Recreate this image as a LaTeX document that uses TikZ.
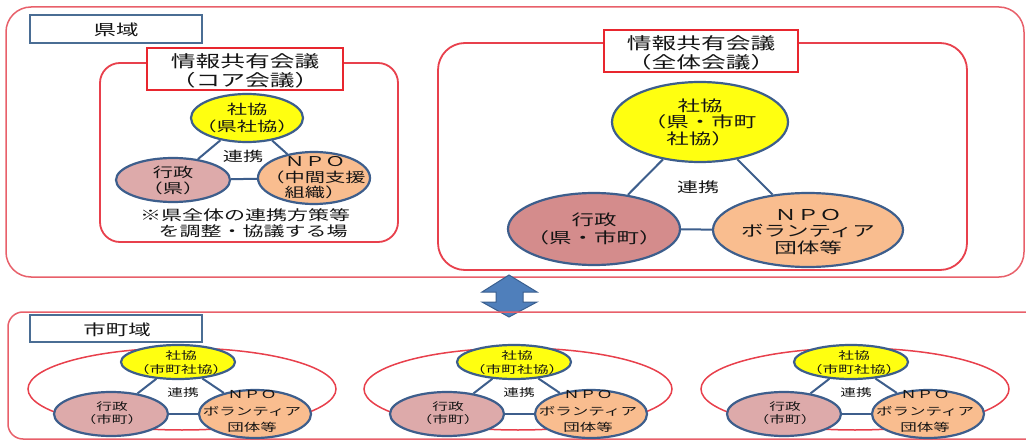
\documentclass[tikz,border=0pt]{standalone}
\usepackage{fontspec}
\newfontfamily\jp[FakeStretch=1.5]{Noto Sans CJK JP}
\usetikzlibrary{shapes.geometric}
\definecolor{outerred}{HTML}{E8606A}
\definecolor{innerred}{HTML}{E8404C}
\definecolor{titlered}{HTML}{E8262E}
\definecolor{ellblue}{HTML}{3D5E8C}
\definecolor{boxblue}{HTML}{4A6D94}
\definecolor{skyellow}{HTML}{FFFF10}
\definecolor{gyopink}{HTML}{DDAAAA}
\definecolor{gyorose}{HTML}{D48C8C}
\definecolor{npoorange}{HTML}{F9BD8F}
\definecolor{arrowfill}{HTML}{4F7FBB}
\definecolor{arrowline}{HTML}{3A5F8F}
\tikzset{
  ell/.style={ellipse, draw=ellblue, line width=2.2pt, inner sep=0pt},
  conn/.style={draw=ellblue, line width=2pt},
  txt/.style={font=\jp, align=center, inner sep=0pt, text=black!92},
  titlebox/.style={draw=titlered, line width=2.5pt, fill=white, inner sep=0pt},
  areabox/.style={draw=boxblue, line width=2.5pt, fill=white, inner sep=0pt},
  outerframe/.style={draw=outerred, line width=1.5pt},
  innerframe/.style={draw=innerred, line width=1.8pt},
}
\begin{document}
\begin{tikzpicture}[x=1pt,y=-1pt]
\useasboundingbox[fill=white] (0,0) rectangle (1026,441);
% ---------- prefecture area ----------
\draw[outerframe, rounded corners=25pt] (6,7) rectangle (1024,277);
\node[areabox, minimum width=172pt, minimum height=28pt] (kenbox) at (116,29) {};
\node[txt, font=\jp\fontsize{15}{17}\selectfont] (kenlbl) at (116,30) {県域};
% core meeting
\draw[innerframe, rounded corners=20pt] (100,63) rectangle (398,242);
\node[titlebox, minimum width=196pt, minimum height=42pt] (coretitle) at (245,69) {};
\node[txt, font=\jp\fontsize{16.5}{18.5}\selectfont] (coretitletxt) at (245,71) {情報共有会議\\（コア会議）};
\node[ell, fill=skyellow, minimum width=112pt, minimum height=48pt] (cSK) at (247,118) {};
\node[ell, fill=gyopink, minimum width=114pt, minimum height=44pt] (cGY) at (173,180) {};
\node[ell, fill=npoorange, minimum width=112pt, minimum height=52pt] (cNP) at (314,178) {};
\draw[conn] (cSK) -- (cGY);
\draw[conn] (cSK) -- (cNP);
\draw[conn] (cGY) -- (cNP);
\node[txt, font=\jp\fontsize{13.5}{17.5}\selectfont] (cSKt) at (247,118) {社協\\（県社協）};
\node[txt, font=\jp\fontsize{13.5}{16}\selectfont] (cGYt) at (173,180) {行政\\（県）};
\node[txt, font=\jp\fontsize{13.5}{15.5}\selectfont] (cNPt) at (315,178) {ＮＰＯ\\（中間支援\\組織）};
\node[txt, font=\jp\fontsize{13.5}{16}\selectfont] (cRK) at (243,156) {連携};
\node[txt, font=\jp\fontsize{14}{16}\selectfont] (note1) at (245,215) {※県全体の連携方策等};
\node[txt, font=\jp\fontsize{14}{16}\selectfont] (note2) at (253,231) {を調整・協議する場};
% full meeting
\draw[innerframe, rounded corners=27pt] (438,43) rectangle (967,270);
\node[titlebox, minimum width=194pt, minimum height=42pt] (fulltitle) at (701,51) {};
\node[txt, font=\jp\fontsize{16.5}{18.5}\selectfont] (fulltitletxt) at (701,53) {情報共有会議\\（全体会議）};
\node[ell, fill=skyellow, minimum width=176pt, minimum height=80pt] (fSK) at (700,122) {};
\node[ell, fill=gyorose, minimum width=172pt, minimum height=72pt] (fGY) at (594,229) {};
\node[ell, fill=npoorange, minimum width=190pt, minimum height=74pt] (fNP) at (808,230) {};
\draw[conn] (fSK) -- (fGY);
\draw[conn] (fSK) -- (fNP);
\draw[conn] (fGY) -- (fNP);
\node[txt, font=\jp\fontsize{15}{16.5}\selectfont] (fSKt) at (700,122) {社協\\（県・市町\\社協）};
\node[txt, font=\jp\fontsize{15}{18}\selectfont] (fGYt) at (594,229) {行政\\（県・市町）};
\node[txt, font=\jp\fontsize{15}{16.5}\selectfont] (fNPt) at (808,231.5) {ＮＰＯ\\ボランティア\\団体等};
\node[txt, font=\jp\fontsize{14}{16}\selectfont] (fRK) at (698,187) {連携};
% ---------- arrow ----------
\fill[arrowfill, draw=arrowline, line width=1pt, line join=miter]
  (509,275) -- (537,292) -- (523,292) -- (523,302) -- (537,302) -- (509,317)
  -- (482,302) -- (496,302) -- (496,292) -- (482,292) -- cycle;
% ---------- municipal area ----------
\draw[outerframe, rounded corners=15pt] (8,312) rectangle (1045,439);
\node[areabox, minimum width=172pt, minimum height=27pt] (citybox) at (116,328.5) {};
\node[txt, font=\jp\fontsize{15}{17}\selectfont] (citylbl) at (117,329.5) {市町域};
\foreach \i/\dx in {1/0,2/336,3/673}{
  \draw[draw=innerred, line width=1.5pt] ({182+\dx},389) ellipse [x radius=154pt, y radius=41pt];
  \node[ell, fill=skyellow, minimum width=114pt, minimum height=34pt] (mSK\i) at ({178+\dx},362) {};
  \node[ell, fill=gyopink, minimum width=114pt, minimum height=44pt] (mGY\i) at ({111+\dx},414) {};
  \node[ell, fill=npoorange, minimum width=112pt, minimum height=48pt] (mNP\i) at ({255+\dx},414) {};
  \draw[conn] (mSK\i) -- (mGY\i);
  \draw[conn] (mSK\i) -- (mNP\i);
  \draw[conn] (mGY\i) -- (mNP\i);
  \node[txt, font=\jp\fontsize{10.5}{14}\selectfont] (mSKt\i) at ({181+\dx},363) {社協\\（市町社協）};
  \node[txt, font=\jp\fontsize{10.5}{13}\selectfont] (mGYt\i) at ({112+\dx},413.5) {行政\\（市町）};
  \node[txt, font=\jp\fontsize{11}{16.5}\selectfont] (mNPt\i) at ({252+\dx},411.5) {ＮＰＯ\\ボランティア\\団体等};
  \node[txt, font=\jp\fontsize{10.5}{13}\selectfont] (mRK\i) at ({183+\dx},393) {連携};
}
\end{tikzpicture}
\end{document}
